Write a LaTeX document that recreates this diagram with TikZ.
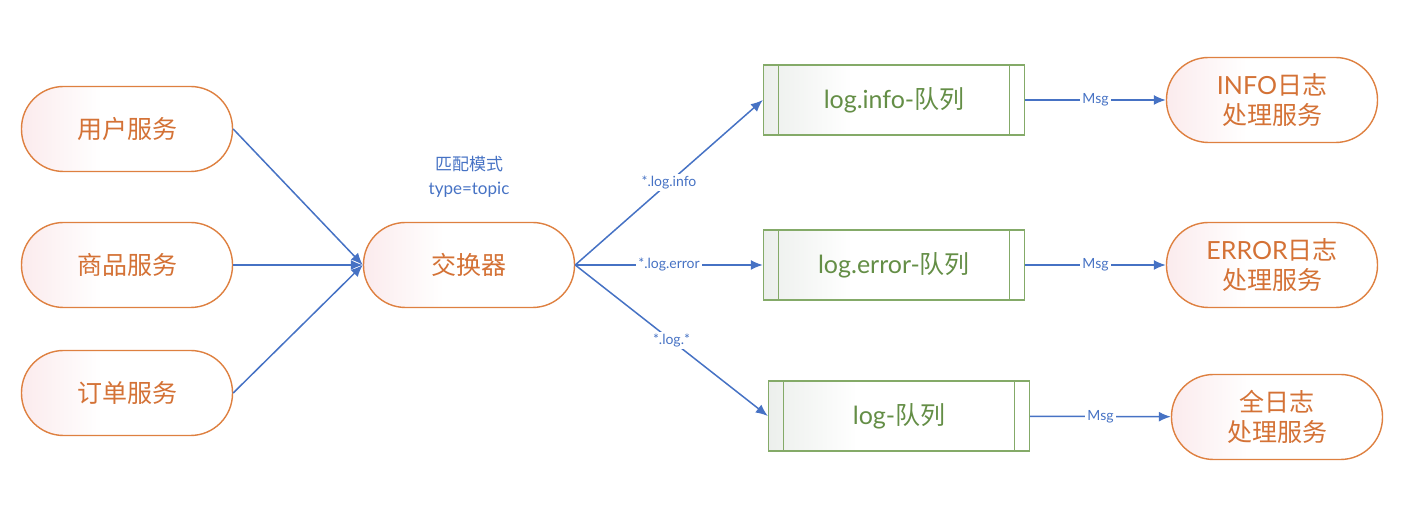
\documentclass[tikz,border=0pt]{standalone}
\usepackage{fontspec}
\setmainfont{Lato}
\newfontfamily\cjk{Noto Sans CJK SC}
\usetikzlibrary{arrows.meta,positioning}

\newcommand\zh[1]{{\cjk #1}}

\definecolor{svcline}{RGB}{222,128,64}
\definecolor{svctext}{RGB}{212,114,54}
\definecolor{svcfill}{RGB}{251,235,237}
\definecolor{qline}{RGB}{132,170,104}
\definecolor{qtext}{RGB}{100,142,70}
\definecolor{qfill}{RGB}{236,239,236}
\definecolor{flowblue}{RGB}{70,114,196}

% node edge = 25bp .. 75bp
\pgfdeclarehorizontalshading{svcshade}{100bp}{color(0bp)=(svcfill);
  color(25bp)=(svcfill); color(44bp)=(white); color(100bp)=(white)}
\pgfdeclarehorizontalshading{qshade}{100bp}{color(0bp)=(qfill);
  color(25bp)=(qfill); color(42bp)=(white); color(100bp)=(white)}

\tikzset{
  svc/.style={draw=svcline, line width=0.7pt, rounded corners=21pt,
    minimum width=105.5pt, minimum height=42.5pt, shading=svcshade,
    text=svctext, align=center, font=\fontsize{12.5}{15}\selectfont},
  queue/.style={draw=qline, line width=0.7pt,
    minimum width=130.5pt, minimum height=35pt, shading=qshade,
    text=qtext, font=\fontsize{12.5}{15}\selectfont,
    path picture={
      \draw[qline, line width=0.7pt]
        ([xshift=7.5pt]path picture bounding box.north west) --
        ([xshift=7.5pt]path picture bounding box.south west);
      \draw[qline, line width=0.7pt]
        ([xshift=-7.5pt]path picture bounding box.north east) --
        ([xshift=-7.5pt]path picture bounding box.south east);
    }},
  flow/.style={draw=flowblue, line width=0.75pt,
    -{Latex[length=6pt,width=5pt]}},
  tag/.style={fill=white, inner sep=1pt, text=flowblue,
    font=\fontsize{7}{8}\selectfont},
  note/.style={text=flowblue, align=center,
    font=\fontsize{8.5}{12}\selectfont}
}

\begin{document}
\begin{tikzpicture}[x=0.5pt, y=-0.5pt]
    \useasboundingbox (0,0) rectangle (1421,506);

    % producers
    \node[svc] (user)  at (127,129) {\zh{用户服务}};
    \node[svc] (goods) at (127,265) {\zh{商品服务}};
    \node[svc] (order) at (127,393) {\zh{订单服务}};

    % exchange
    \node[svc] (exch) at (469,265) {\zh{交换器}};
    \node[note] (mode) at (469,177) {\zh{匹配模式}\\type=topic};

    % queues
    \node[queue] (qinfo)  at (894,100) {log.info-\zh{队列}};
    \node[queue] (qerror) at (894,265) {log.error-\zh{队列}};
    \node[queue] (qall)   at (899,416) {log-\zh{队列}};

    % consumers
    \node[svc] (hinfo)  at (1272,100) {INFO\zh{日志}\\\zh{处理服务}};
    \node[svc] (herror) at (1272,265) {ERROR\zh{日志}\\\zh{处理服务}};
    \node[svc] (hall)   at (1277,417) {\zh{全日志}\\\zh{处理服务}};

    \foreach \s in {user,goods,order}
        \draw[flow] (\s.east) -- (exch.west);

    \draw[flow] (exch.east) -- node[tag] {*.log.info} (qinfo.west);
    \draw[flow] (exch.east) -- node[tag] {*.log.error} (qerror.west);
    \draw[flow] (exch.east) -- node[tag] {*.log.*} (qall.west);

    \draw[flow] (qinfo) -- node[tag] {Msg} (hinfo);
    \draw[flow] (qerror) -- node[tag] {Msg} (herror);
    \draw[flow] (qall) -- node[tag] {Msg} (hall);
\end{tikzpicture}
\end{document}
